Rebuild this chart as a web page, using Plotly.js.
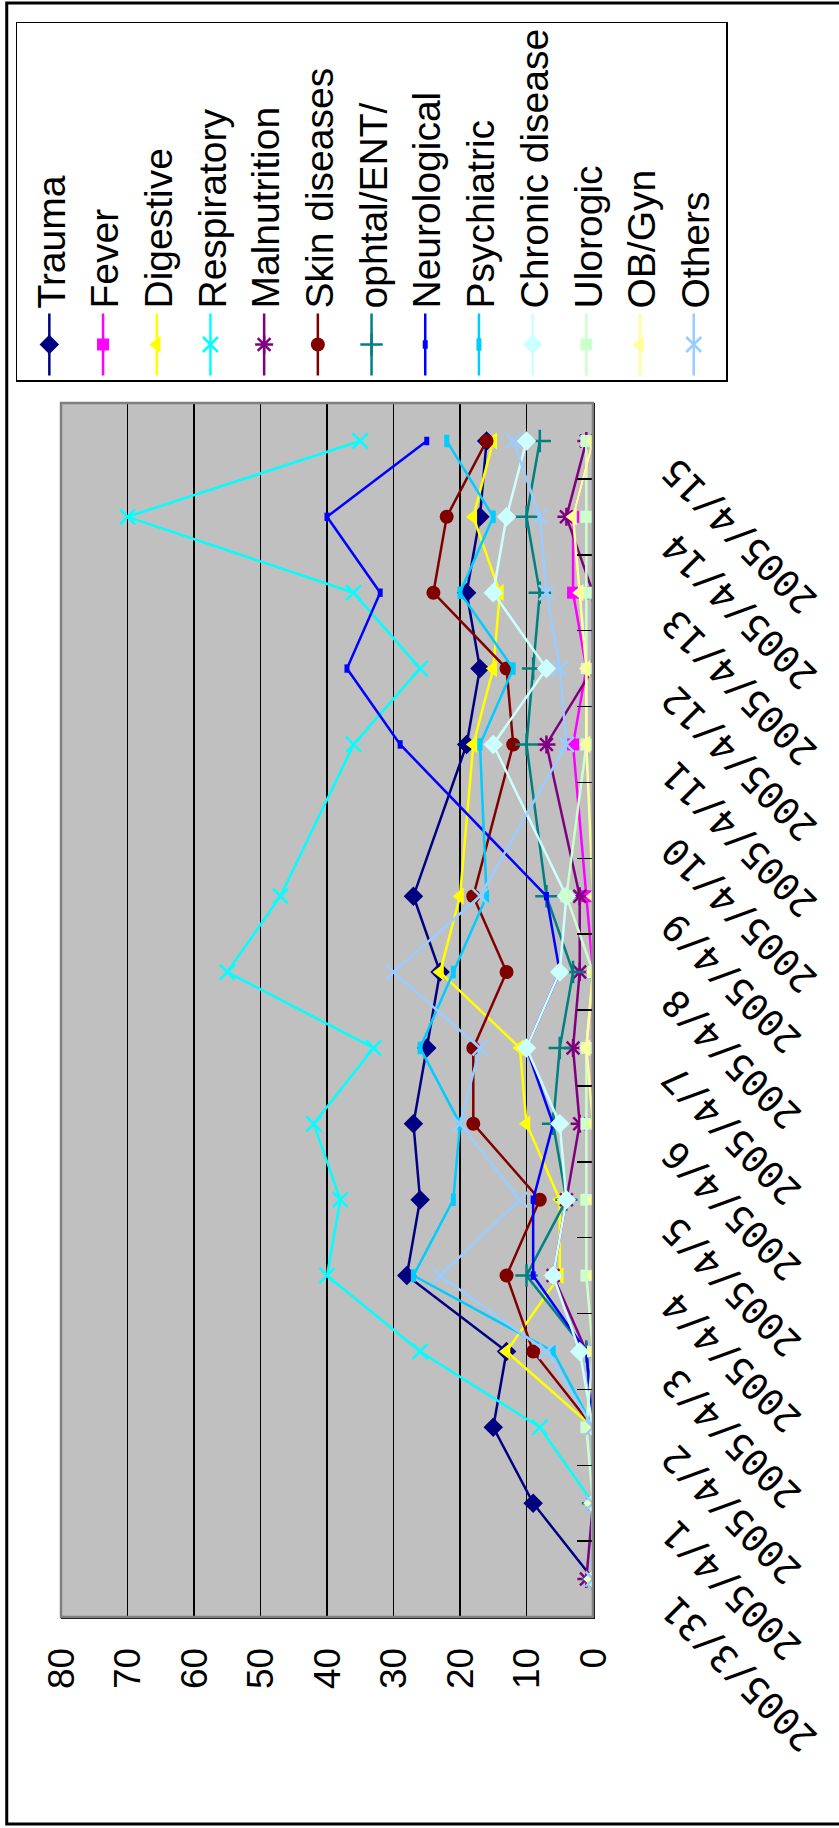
<!DOCTYPE html>
<html>
<head>
<meta charset="utf-8">
<script src="https://cdn.plot.ly/plotly-3.0.1.min.js"></script>
<style>
html, body { margin:0; padding:0; width:839px; height:1828px; overflow:hidden; background:#fff; }
#wrap { position:absolute; left:0; top:0; width:1828px; height:839px; transform-origin:0 0; transform:translate(0px,1828px) rotate(-90deg); }
#chart { width:1828px; height:839px; }
</style>
</head>
<body>
<div id="wrap"><div id="chart"></div></div>
<script>
// Dates (categories); 2005/4/10 has no data (null), lines are connected across it
const dates = ['2005/3/31','2005/4/1','2005/4/2','2005/4/3','2005/4/4','2005/4/5','2005/4/6','2005/4/7',
               '2005/4/8','2005/4/9','2005/4/10','2005/4/11','2005/4/12','2005/4/13','2005/4/14','2005/4/15'];

const trauma       = [0, 9, 15, 13, 28, 26, 27, 25, 23, 27, null, 19, 17, 19, 17, 16];
const fever        = [0, 0, 0, 0, 0, 0, 0, 0, 0, 1, null, 3, 1, 3, 3, 0];
const digestive    = [0, 0, 0, 13, 5, 5, 10, 11, 23, 20, null, 18, 15, 14, 18, 15];
const respiratory  = [0, 0, 8, 26, 40, 38, 42, 33, 55, 47, null, 36, 26, 36, 70, 35];
const malnutrition = [1, 0, 0, 1, 6, 4, 2, 3, 2, 2, null, 7, 0, 0, 4, 1];
const skin         = [0, 0, 0, 9, 13, 8, 18, 18, 13, 18, null, 12, 13, 24, 22, 16];
const ophtal       = [0, 0, 0, 1, 10, 4, 6, 5, 3, 7, null, 10, 9, 8, 10, 8];
const neuro        = [0, 0, 0, 1, 9, 9, 6, 10, 5, 7, null, 29, 37, 32, 40, 25];
const psych        = [0, 0, 0, 6, 27, 21, 20, 26, 21, 16, null, 17, 12, 20, 15, 22];
const chronic      = [0, 0, 0, 2, 6, 4, 5, 10, 5, 4, null, 15, 7, 15, 13, 10];
const ulorogic     = [0, 0, 1, 0, 1, 1, 1, 1, 0, 4, null, 1, 1, 1, 1, 1];
const obgyn        = [0, 0, 0, 0, 0, 0, 0, 1, 0, 0, null, 1, 1, 2, 3, 0];
const others       = [0, 0, 0, 7, 23, 11, 20, 17, 30, 17, null, 4, 5, 7, 8, 12];

const seriesNames  = ['Trauma','Fever','Digestive','Respiratory','Malnutrition','Skin diseases','ophtal/ENT/',
                      'Neurological','Psychiatric','Chronic disease','Ulorogic','OB/Gyn','Others'];
const seriesData   = [trauma, fever, digestive, respiratory, malnutrition, skin, ophtal,
                      neuro, psych, chronic, ulorogic, obgyn, others];
const seriesColors = ['#000080','#FF00FF','#FFFF00','#00FFFF','#800080','#800000','#008080',
                      '#0000FF','#00CCFF','#CCFFFF','#CCFFCC','#FFFF99','#99CCFF'];
const seriesSymbols = ['diamond','square','triangle-up','x-thin-open','asterisk-open','circle','cross-thin-open',
                       'line-ew-open','line-ew-open','diamond','square','triangle-up','x-thin-open'];
const seriesSizes  = [15, 12, 15, 15, 15, 14, 16, 6, 9, 15, 12, 15, 15];

const traces = seriesNames.map(function(name, i){
  const open = seriesSymbols[i].indexOf('open') >= 0;
  return {
    type: 'scatter', mode: 'lines+markers', name: name,
    x: dates, y: seriesData[i], connectgaps: true,
    legendgroup: 'g' + i,
    line: {color: seriesColors[i], width: 2.5},
    marker: {
      symbol: seriesSymbols[i], size: seriesSizes[i], color: seriesColors[i],
      line: {color: seriesColors[i], width: open ? (seriesSymbols[i]==='line-ew-open' ? 5 : 2.5) : 0}
    }
  };
});

const layout = {
  width: 1828, height: 839,
  margin: {l: 211, r: 403, t: 61, b: 246, autoexpand: false},
  paper_bgcolor: '#FFFFFF',
  plot_bgcolor: '#C0C0C0',
  showlegend: true,
  xaxis: {
    type: 'category', categoryorder: 'array', categoryarray: dates,
    range: [-0.5, 15.5], tickson: 'boundaries',
    ticks: 'inside', ticklen: 16, tickwidth: 1.5, tickcolor: '#000',
    showline: true, linecolor: '#000', linewidth: 1.5,
    showgrid: false, zeroline: false,
    tickangle: -45,
    ticklabelstandoff: 44, ticklabelshift: -28,
    tickfont: {family: 'DejaVu Sans Mono, monospace', size: 37, color: '#000'}
  },
  yaxis: {
    range: [0, 80], dtick: 10, tick0: 0,
    ticks: 'inside', ticklen: 12, tickwidth: 1.5, tickcolor: '#000',
    showline: true, linecolor: '#000', linewidth: 1.5,
    showgrid: true, gridcolor: '#000', gridwidth: 1.2,
    zeroline: false,
    ticklabelstandoff: 22,
    tickfont: {family: 'Liberation Sans, Arial, sans-serif', size: 37, color: '#000'}
  },
  legend: {
    x: 1.0173, y: 1.0846, xanchor: 'left', yanchor: 'top',
    orientation: 'v', bgcolor: '#FFFFFF', bordercolor: '#000', borderwidth: 1.5,
    font: {family: 'Liberation Sans, Arial, sans-serif', size: 39, color: '#000'},
    itemwidth: 62, tracegroupgap: 17, maxheight: 900,
    traceorder: 'normal'
  },
  shapes: [
    {type: 'rect', xref: 'paper', yref: 'paper', x0: 0, x1: 1, y0: 0, y1: 1,
     line: {color: '#808080', width: 2.5}, layer: 'above'},
    {type: 'rect', xref: 'paper', yref: 'paper', x0: -0.1705, x1: 1.3295, y0: -0.49, y1: 1.102,
     line: {color: '#000', width: 3}, layer: 'above'}
  ]
};

Plotly.newPlot('chart', traces, layout, {staticPlot: true, displayModeBar: false});
</script>
</body>
</html>
